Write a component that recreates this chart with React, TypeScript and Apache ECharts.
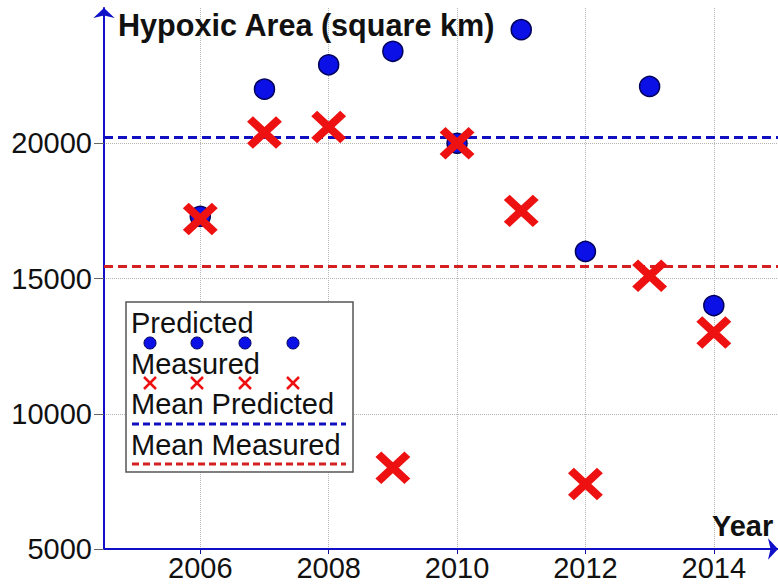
import React, { useEffect, useRef } from "react";
import * as echarts from "echarts";

const years = [2006, 2007, 2008, 2009, 2010, 2011, 2012, 2013, 2014];
const predicted = [17300, 22000, 22900, 23400, 20000, 24200, 16000, 22100, 14000];
const measured = [17200, 20400, 20600, 8000, 20000, 17500, 7400, 15100, 13000];
const xTicks = [2006, 2008, 2010, 2012, 2014];
const yTicks = [5000, 10000, 15000, 20000];
const titleText = "Hypoxic Area (square km)";
const xName = "Year";
const legendNames = ["Predicted", "Measured", "Mean Predicted", "Mean Measured"];

const BLUE = "#0a10e6";
const RED = "#ee1111";
const FONT = "Liberation Sans, Arial, sans-serif";

const mean = (a: number[]) => a.reduce((s, v) => s + v, 0) / a.length;

export default function App() {
  const ref = useRef<HTMLDivElement>(null);
  useEffect(() => {
    document.body.style.margin = "0";
    const chart = echarts.init(ref.current!, null, { renderer: "svg" });
    const xPath = "path://M0,0L10,10M10,0L0,10";
    const legendX = [150, 197, 245, 293];
    const legendGraphics: any[] = [
      {
        type: "rect",
        shape: { x: 126, y: 302, width: 227, height: 170 },
        style: { fill: "#fff", stroke: "#555", lineWidth: 1.5 },
        z: 10,
      },
      ...legendNames.map((n, i) => ({
        type: "text",
        x: 131,
        y: 323 + i * 40.5,
        style: { text: n, font: `29px ${FONT}`, fill: "#111", verticalAlign: "middle" },
        z: 11,
      })),
      ...legendX.map((x) => ({
        type: "circle",
        shape: { cx: x, cy: 343, r: 6 },
        style: { fill: BLUE, stroke: "#00005a", lineWidth: 1 },
        z: 11,
      })),
      ...legendX.map((x) => ({
        type: "group",
        z: 11,
        children: [
          { type: "line", shape: { x1: x - 6, y1: 377, x2: x + 6, y2: 389 }, style: { stroke: RED, lineWidth: 2.5 }, z: 11 },
          { type: "line", shape: { x1: x + 6, y1: 377, x2: x - 6, y2: 389 }, style: { stroke: RED, lineWidth: 2.5 }, z: 11 },
        ],
      })),
      {
        type: "line",
        shape: { x1: 132, y1: 424, x2: 346, y2: 424 },
        style: { stroke: "#1010c0", lineWidth: 3, lineDash: [7, 4] },
        z: 11,
      },
      {
        type: "line",
        shape: { x1: 132, y1: 464, x2: 346, y2: 464 },
        style: { stroke: "#d42020", lineWidth: 3, lineDash: [7, 4] },
        z: 11,
      },
      {
        type: "text",
        x: 118,
        y: 25,
        style: { text: titleText, font: `bold 30.6px ${FONT}`, fill: "#111", verticalAlign: "middle" },
        z: 11,
      },
      {
        type: "text",
        x: 712,
        y: 526,
        style: { text: xName, font: `bold 29px ${FONT}`, fill: "#111", verticalAlign: "middle" },
        z: 11,
      },
    ];

    const gridStyle = { color: "#b4b4b4", type: "dotted" as const, width: 1 };

    chart.setOption({
      animation: false,
      backgroundColor: "#fff",
      grid: { left: 104, top: 8, right: -1, bottom: 36, containLabel: false },
      xAxis: {
        type: "value",
        min: 2004.5,
        max: 2015,
        axisLine: {
          show: true,
          lineStyle: { color: "#1010c8", width: 2 },
          symbol: ["none", "arrow"],
          symbolSize: [16, 10],
        },
        axisTick: { show: true, customValues: xTicks, length: 5, lineStyle: { color: "#1010a0", width: 1 } },
        axisLabel: {
          customValues: xTicks,
          formatter: (v: number) => String(v),
          fontSize: 29,
          fontFamily: FONT,
          color: "#111",
          margin: 4,
        },
        splitLine: { show: false },
      },
      yAxis: {
        type: "value",
        min: 5000,
        max: 25000,
        axisLine: {
          show: true,
          lineStyle: { color: "#1010c8", width: 2 },
          symbol: ["none", "arrow"],
          symbolSize: [16, 10],
        },
        axisTick: { show: true, customValues: yTicks, length: 10, lineStyle: { color: "#666", width: 1 } },
        axisLabel: {
          customValues: yTicks,
          formatter: (v: number) => String(v),
          fontSize: 29,
          fontFamily: FONT,
          color: "#111",
          margin: 12,
        },
        splitLine: { show: false },
      },
      graphic: legendGraphics,
      series: [
        {
          type: "line",
          name: "grid",
          data: [],
          silent: true,
          z: 0,
          markLine: {
            silent: true,
            symbol: "none",
            z: 0,
            label: { show: false },
            lineStyle: gridStyle,
            data: [
              ...xTicks.map((v) => ({ xAxis: v })),
              ...yTicks.slice(1).map((v) => ({ yAxis: v })),
            ],
          },
        },
        {
          type: "line",
          name: "means",
          data: [],
          silent: true,
          z: 1,
          markLine: {
            silent: true,
            symbol: "none",
            z: 1,
            label: { show: false },
            data: [
              { yAxis: mean(predicted), lineStyle: { color: "#1010c0", width: 3, type: [9, 5] } },
              { yAxis: mean(measured), lineStyle: { color: "#d42020", width: 3, type: [9, 5] } },
            ],
          },
        },
        {
          type: "scatter",
          name: "Predicted",
          z: 3,
          symbol: "circle",
          symbolSize: 20,
          itemStyle: { color: BLUE, borderColor: "#00005a", borderWidth: 1.5, opacity: 1 },
          data: years.map((y, i) => [y, predicted[i]]),
        },
        {
          type: "scatter",
          name: "Measured",
          z: 4,
          symbol: xPath,
          symbolSize: [29, 27],
          itemStyle: { color: "none", borderColor: RED, borderWidth: 8, opacity: 1 },
          data: years.map((y, i) => [y, measured[i]]),
        },
      ],
    });
    return () => chart.dispose();
  }, []);
  return <div ref={ref} style={{ width: 778, height: 585 }} />;
}
